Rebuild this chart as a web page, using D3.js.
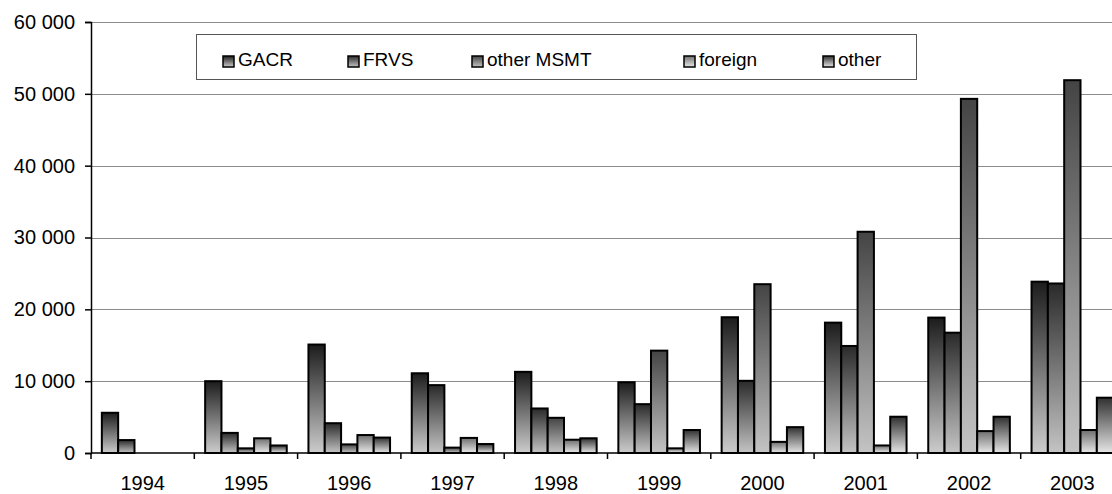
<!DOCTYPE html>
<html>
<head>
<meta charset="utf-8">
<script src="https://cdn.jsdelivr.net/npm/d3@7"></script>
<style>
  body { margin: 0; background: #fff; }
  svg { display: block; font-family: "Liberation Sans", Arial, sans-serif; }
</style>
</head>
<body>
<svg id="chart"></svg>
<script>
const width = 1112;
const height = 494;

// data
const years = ['1994', '1995', '1996', '1997', '1998', '1999', '2000', '2001', '2002', '2003'];
const seriesNames = ['GACR', 'FRVS', 'other MSMT', 'foreign', 'other'];
const gacr = [5600, 10000, 15100, 11100, 11300, 9850, 18900, 18150, 18850, 23850];
const frvs = [1800, 2800, 4150, 9450, 6200, 6800, 10050, 14900, 16750, 23600];
const otherMsmt = [0, 650, 1200, 750, 4900, 14250, 23500, 30800, 49300, 51900];
const foreign = [0, 2050, 2500, 2100, 1850, 650, 1550, 1050, 3050, 3200];
const other = [0, 1050, 2150, 1250, 2050, 3200, 3600, 5050, 5050, 7700];
const yTicks = [0, 10000, 20000, 30000, 40000, 50000, 60000];

const seriesValues = [gacr, frvs, otherMsmt, foreign, other];
// gradient stops (top -> bottom) for each series
const gradients = [
  ['#1c1c1c', '#cccccc'],
  ['#2a2a2a', '#c4c4c4'],
  ['#444444', '#c4c4c4'],
  ['#6e6e6e', '#e8e8e8'],
  ['#303030', '#e6e6e6']
];

const margin = {left: 91, top: 22, bottom: 41};
const plotWidth = 1033; // plot runs slightly past the window edge, as in the original
const plotBottom = height - margin.bottom;

const svg = d3.select('#chart')
  .attr('width', width)
  .attr('height', height);

const defs = svg.append('defs');
gradients.forEach((g, i) => {
  const lg = defs.append('linearGradient')
    .attr('id', 'grad' + i)
    .attr('x1', 0).attr('y1', 0)
    .attr('x2', 0).attr('y2', 1);
  lg.append('stop').attr('offset', '0%').attr('stop-color', g[0]);
  lg.append('stop').attr('offset', '100%').attr('stop-color', g[1]);
});

const x0 = d3.scaleBand()
  .domain(years)
  .range([margin.left, margin.left + plotWidth])
  .paddingInner(0.21)
  .paddingOuter(0.105);

const x1 = d3.scaleBand()
  .domain(d3.range(seriesNames.length))
  .range([0, x0.bandwidth()]);

const y = d3.scaleLinear()
  .domain([0, 60000])
  .range([plotBottom, margin.top]);

const locale = d3.formatLocale({decimal: ',', thousands: '\u00a0', grouping: [3], currency: ['', '']});
const fmt = locale.format(',');

// gridlines
svg.append('g')
  .selectAll('line')
  .data(yTicks.filter(d => d > 0))
  .enter().append('line')
  .attr('x1', margin.left)
  .attr('x2', margin.left + plotWidth)
  .attr('y1', d => Math.round(y(d)) + 0.5)
  .attr('y2', d => Math.round(y(d)) + 0.5)
  .attr('stroke', '#8c8c8c')
  .attr('stroke-width', 1);

// bars
const groups = svg.append('g')
  .selectAll('g')
  .data(years)
  .enter().append('g')
  .attr('transform', d => `translate(${x0(d)},0)`);

groups.selectAll('rect')
  .data((d, yi) => seriesValues.map((vals, si) => ({s: si, v: vals[yi]})).filter(e => e.v > 0))
  .enter().append('rect')
  .attr('x', d => x1(d.s))
  .attr('width', x1.bandwidth())
  .attr('y', d => y(d.v))
  .attr('height', d => plotBottom - y(d.v))
  .attr('fill', d => `url(#grad${d.s})`)
  .attr('stroke', '#000')
  .attr('stroke-width', 2);

// y axis
const yAxis = svg.append('g')
  .attr('transform', `translate(${margin.left},0)`)
  .call(d3.axisLeft(y).tickValues(yTicks).tickSize(6).tickPadding(10).tickFormat(fmt));
yAxis.select('.domain').attr('stroke', '#000').attr('stroke-width', 1.5);
yAxis.selectAll('.tick line').attr('stroke', '#000').attr('stroke-width', 1.5);
yAxis.selectAll('text')
  .attr('font-size', 20)
  .attr('font-family', '"Liberation Sans", Arial, sans-serif')
  .attr('fill', '#000');

// x axis: baseline with ticks between categories
const xAxis = svg.append('g');
xAxis.append('line')
  .attr('x1', margin.left)
  .attr('x2', margin.left + plotWidth)
  .attr('y1', plotBottom)
  .attr('y2', plotBottom)
  .attr('stroke', '#000')
  .attr('stroke-width', 1.5);
xAxis.selectAll('.xtick')
  .data(years)
  .enter().append('line')
  .attr('class', 'xtick')
  .attr('x1', d => x0(d) - x0.step() * x0.paddingInner() / 2)
  .attr('x2', d => x0(d) - x0.step() * x0.paddingInner() / 2)
  .attr('y1', plotBottom)
  .attr('y2', plotBottom + 6)
  .attr('stroke', '#000')
  .attr('stroke-width', 1.5);
xAxis.selectAll('text')
  .data(years)
  .enter().append('text')
  .attr('x', d => x0(d) + x0.bandwidth() / 2)
  .attr('y', plotBottom + 37)
  .attr('text-anchor', 'middle')
  .attr('font-size', 20)
  .text(d => d);

// legend
const legendX = [223, 348, 472, 684, 823];
const legend = svg.append('g');
legend.append('rect')
  .attr('x', 196.5)
  .attr('y', 34.5)
  .attr('width', 720)
  .attr('height', 45)
  .attr('fill', '#fff')
  .attr('stroke', '#555')
  .attr('stroke-width', 1);
const items = legend.selectAll('.item')
  .data(seriesNames)
  .enter().append('g')
  .attr('class', 'item')
  .attr('transform', (d, i) => `translate(${legendX[i]},0)`);
items.append('rect')
  .attr('x', 0)
  .attr('y', 56)
  .attr('width', 11)
  .attr('height', 11)
  .attr('fill', (d, i) => `url(#grad${i})`)
  .attr('stroke', '#000')
  .attr('stroke-width', 1.5);
items.append('text')
  .attr('x', 15)
  .attr('y', 65.5)
  .attr('font-size', 19)
  .text(d => d);
</script>
</body>
</html>
